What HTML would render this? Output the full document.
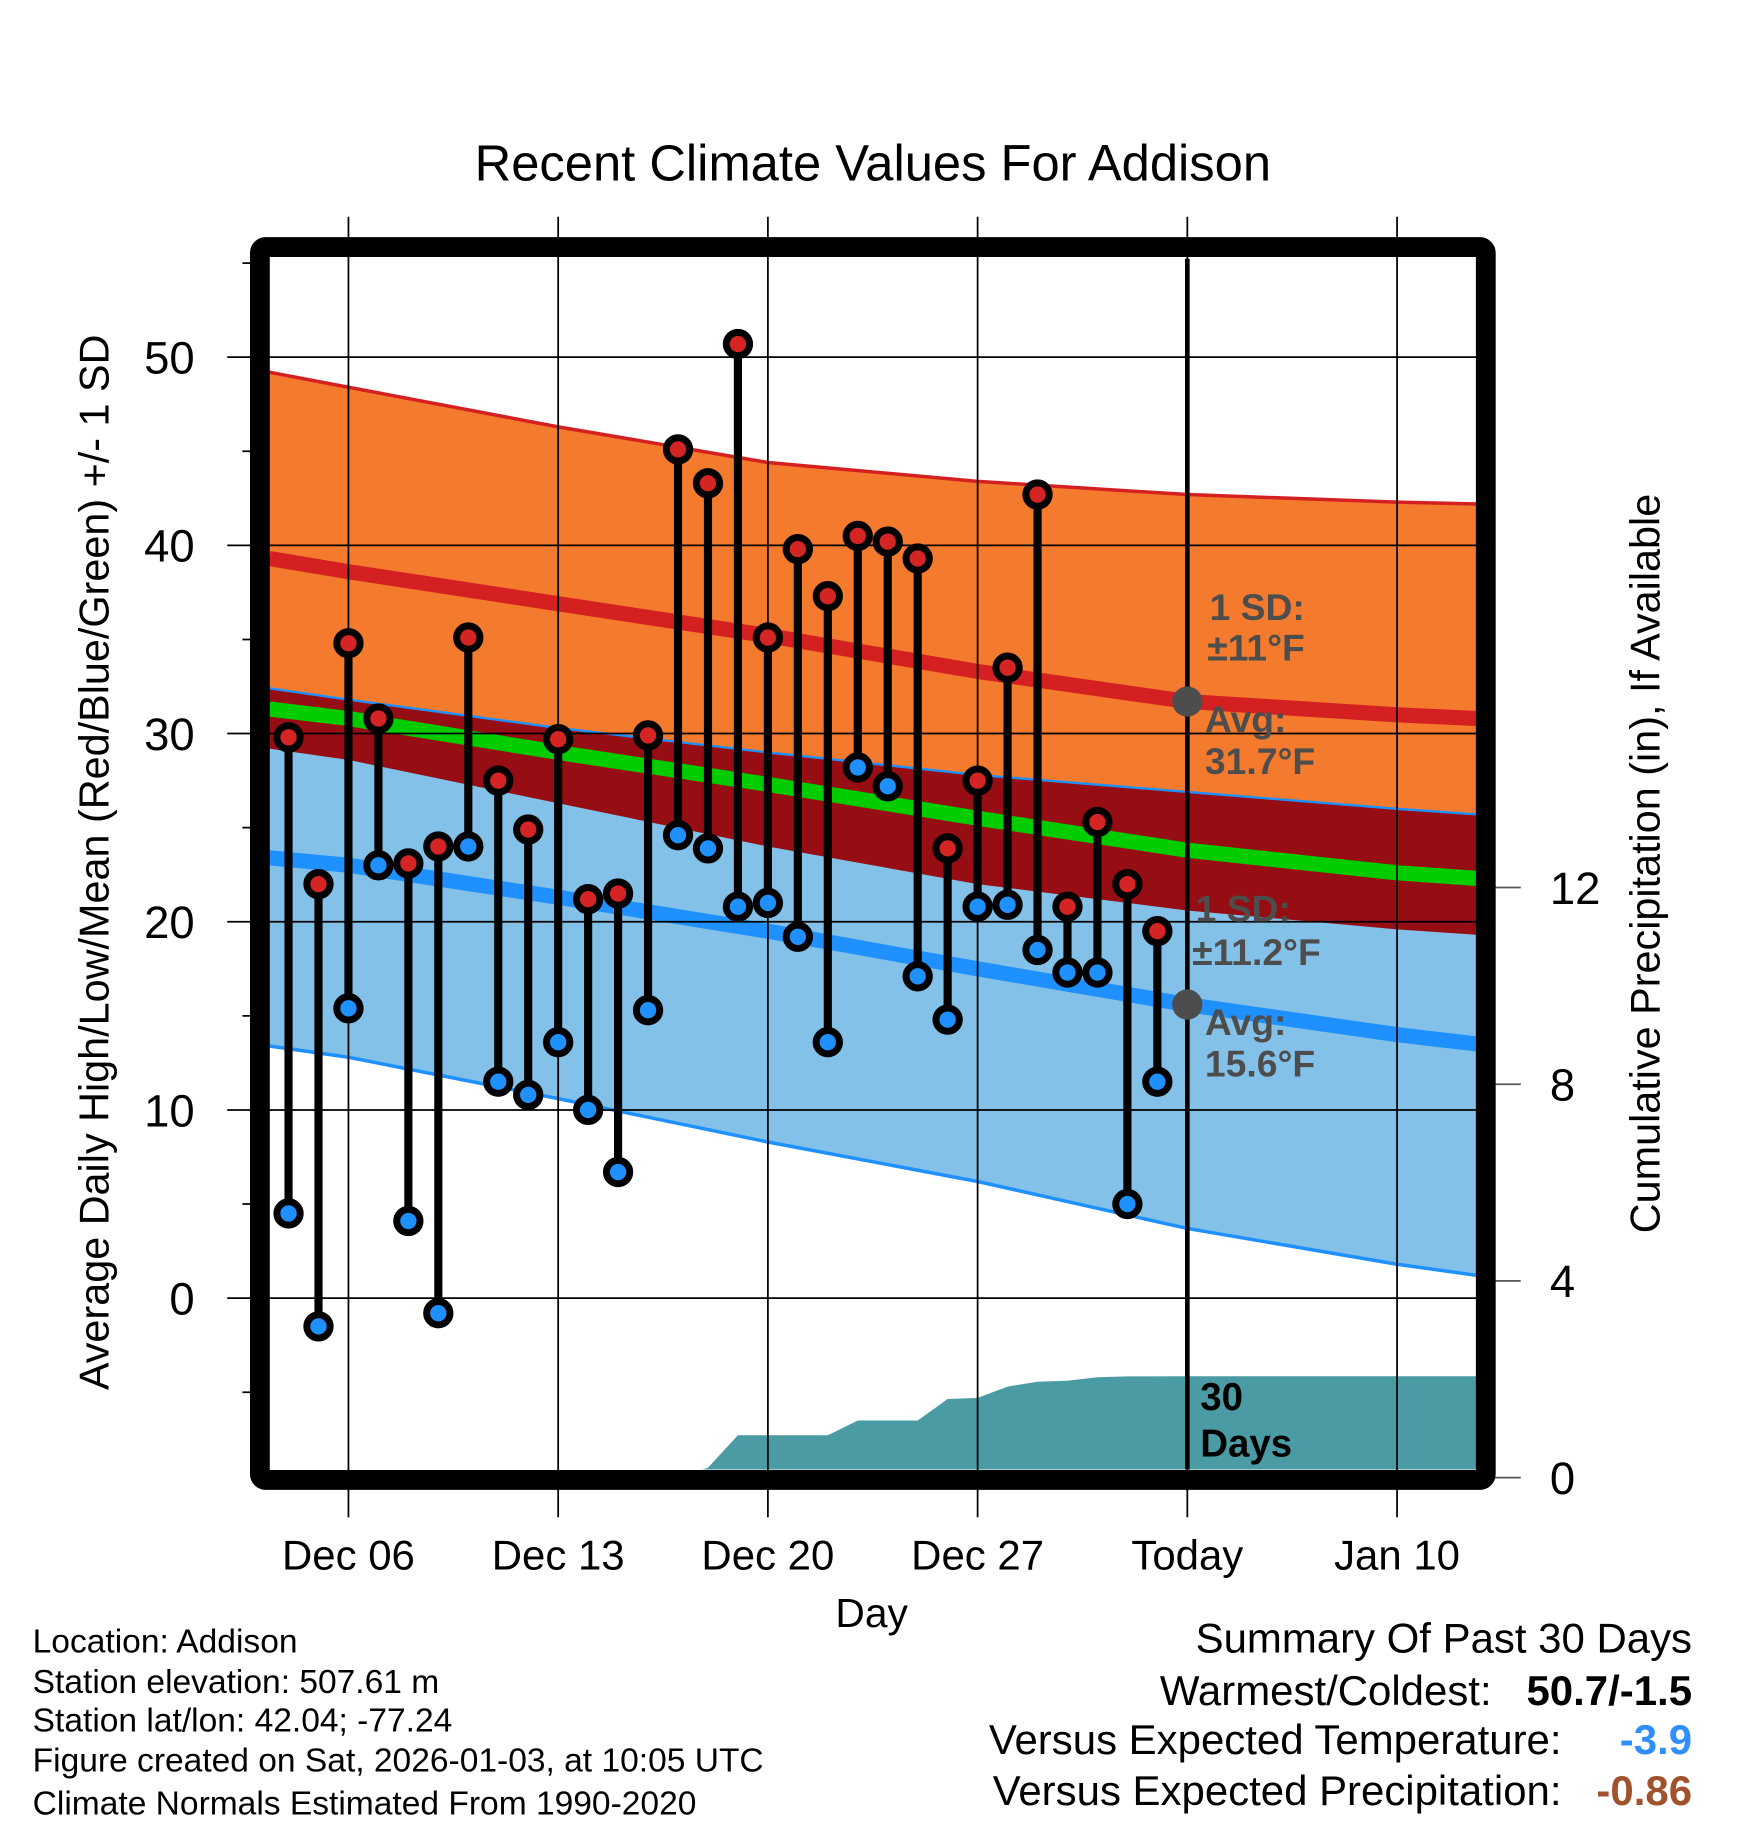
<!DOCTYPE html>
<html><head><meta charset="utf-8"><style>
html,body{margin:0;padding:0;background:#fff}
svg{display:block;font-family:"Liberation Sans",Arial,sans-serif}
</style></head><body>
<svg id="chart" width="1748" height="1828" viewBox="0 0 1500 1568.7" xmlns="http://www.w3.org/2000/svg">
<text x="749" y="155" font-size="43.5" text-anchor="middle">Recent Climate Values For Addison</text>
<g id="plot"></g>
<text transform="translate(93,740) rotate(-90)" font-size="35.5" text-anchor="middle">Average Daily High/Low/Mean (Red/Blue/Green) +/- 1 SD</text>
<text transform="translate(1424,741) rotate(-90)" font-size="35.5" text-anchor="middle">Cumulative Precipitation (in), If Available</text>
<text x="748" y="1396" font-size="35" text-anchor="middle">Day</text>
<g font-size="28.8">
<text x="28" y="1418">Location: Addison</text>
<text x="28" y="1453">Station elevation: 507.61 m</text>
<text x="28" y="1486">Station lat/lon: 42.04; -77.24</text>
<text x="28" y="1520">Figure created on Sat, 2026-01-03, at 10:05 UTC</text>
<text x="28" y="1557">Climate Normals Estimated From 1990-2020</text>
</g>
<g font-size="36">
<text x="1452" y="1418" text-anchor="end">Summary Of Past 30 Days</text>
<text x="1280" y="1463" text-anchor="end">Warmest/Coldest:</text>
<text x="1452" y="1463" text-anchor="end" font-weight="bold">50.7/-1.5</text>
<text x="1340" y="1505" text-anchor="end">Versus Expected Temperature:</text>
<text x="1452" y="1505" text-anchor="end" font-weight="bold" fill="#2f8fff">-3.9</text>
<text x="1340" y="1549" text-anchor="end">Versus Expected Precipitation:</text>
<text x="1452" y="1549" text-anchor="end" font-weight="bold" fill="#a0522d">-0.86</text>
</g>
</svg>
<script>
// ---- data ----
const normDays = [-2.64, 0, 7, 14, 21, 28, 35, 37.7];
const hiUpper = [49.2, 48.4, 46.3, 44.4, 43.4, 42.7, 42.3, 42.2];
const hiMean  = [39.3, 38.6, 36.9, 35.2, 33.3, 31.7, 31.0, 30.8];
const hiLower = [29.2, 28.6, 26.3, 24.0, 22.0, 20.6, 19.6, 19.3];
const avgMean = [31.3, 30.8, 29.0, 27.3, 25.5, 23.8, 22.6, 22.3];
const loUpper = [32.4, 31.8, 30.3, 29.0, 27.8, 26.9, 26.0, 25.7];
const loMean  = [23.4, 23.0, 21.3, 19.5, 17.5, 15.6, 14.0, 13.5];
const loLower = [13.4, 12.8, 10.6, 8.3, 6.2, 3.7, 1.8, 1.2];
const obsDays = [-2,-1,0,1,2,3,4,5,6,7,8,9,10,11,12,13,14,15,16,17,18,19,20,21,22,23,24,25,26,27];
const highs = [29.8,22.0,34.8,30.8,23.1,24.0,35.1,27.5,24.9,29.7,21.2,21.5,29.9,45.1,43.3,50.7,35.1,39.8,37.3,40.5,40.2,39.3,23.9,27.5,33.5,42.7,20.8,25.3,22.0,19.5];
const lows  = [4.5,-1.5,15.4,23.0,4.1,-0.8,24.0,11.5,10.8,13.6,10.0,6.7,15.3,24.6,23.9,20.8,21.0,19.2,13.6,28.2,27.2,17.1,14.8,20.8,20.9,18.5,17.3,17.3,5.0,11.5];
const precip = [0,0,0,0,0,0,0,0,0,0.02,0.02,0.02,0.02,0.02,0.2,0.86,0.86,0.86,0.86,1.16,1.16,1.16,1.6,1.62,1.85,1.95,1.97,2.04,2.06,2.06];
const xTickDays = [0,7,14,21,28,35];
const xTickLabels = ["Dec 06","Dec 13","Dec 20","Dec 27","Today","Jan 10"];
const yTicks = [0,10,20,30,40,50];
const y2Ticks = [0,4,8,12];

// ---- scales ----
const L=231, R=1268, T=222, B=1261;
const X = d => 299 + 25.71*d;
const Y = v => 1114 - 16.15*v;
const Y2 = p => 1268 - 42.2*p;
const NS="http://www.w3.org/2000/svg";
const g=document.getElementById('plot');
function mk(tag, attrs, parent){const e=document.createElementNS(NS,tag);for(const k in attrs)e.setAttribute(k,attrs[k]);(parent||g).appendChild(e);return e;}
const pts = arr => arr.map((v,i)=>X(normDays[i]).toFixed(1)+','+Y(v).toFixed(1));
const cp=mk('clipPath',{id:'clip'});mk('rect',{x:L,y:T,width:R-L,height:B-T},cp);
const pg=mk('g',{'clip-path':'url(#clip)'});
(function(){
 const add=(tag,a,name)=>{const e=mk(tag,a,pg);return e;};
 const poly=(up,lo)=>pts(up).concat(pts(lo).reverse()).join(' ');
 add('polygon',{points:poly(hiUpper,hiLower),fill:'#f47a2d'},'high-sd-band');
 add('polygon',{points:poly(loUpper,loLower),fill:'#84c1e8'},'low-sd-band');
 add('polygon',{points:poly(loUpper,hiLower),fill:'#960d14'},'overlap-band');
 add('polyline',{points:pts(hiUpper).join(' '),fill:'none',stroke:'#d42020','stroke-width':3},'high-upper-line');
 add('polyline',{points:pts(loUpper).join(' '),fill:'none',stroke:'#1e90ff','stroke-width':2},'low-upper-line');
 add('polyline',{points:pts(loLower).join(' '),fill:'none',stroke:'#1e90ff','stroke-width':3},'low-lower-line');
 add('polyline',{points:pts(hiMean).join(' '),fill:'none',stroke:'#d42020','stroke-width':13},'high-mean-line');
 add('polyline',{points:pts(avgMean).join(' '),fill:'none',stroke:'#00cc00','stroke-width':13},'avg-mean-line');
 add('polyline',{points:pts(loMean).join(' '),fill:'none',stroke:'#1e90ff','stroke-width':13},'low-mean-line');
 let pp=[X(obsDays[0])+','+Y2(0)];
 precip.forEach((p,i)=>pp.push(X(obsDays[i]).toFixed(1)+','+Y2(p).toFixed(1)));
 const last=precip[precip.length-1];
 pp.push(X(28)+','+Y2(last)); pp.push(R+','+Y2(last)); pp.push(R+','+Y2(0));
 add('polygon',{points:pp.join(' '),fill:'#4a9ba3'},'precip-area');
})();
yTicks.forEach(v=>{const e=mk('line',{x1:195,x2:R,y1:Y(v),y2:Y(v),stroke:'#000','stroke-width':1.5});
 
 const t=mk('text',{x:167,y:Y(v)+14,'font-size':39,'text-anchor':'end'});t.textContent=v;
 });
for(let v=-5;v<=55;v+=10){const e=mk('line',{x1:208,x2:231,y1:Y(v),y2:Y(v),stroke:'#000','stroke-width':1.5});
 }
y2Ticks.forEach(p=>{const e=mk('line',{x1:1283,x2:1305,y1:Y2(p),y2:Y2(p),stroke:'#555','stroke-width':1.5});
 
 const t=mk('text',{x:1330,y:Y2(p)+14,'font-size':39});t.textContent=p;
 });
xTickDays.forEach((d,i)=>{const today=xTickLabels[i]==='Today';
 const e=mk('line',{x1:X(d),x2:X(d),y1:186,y2:1302,stroke:'#000','stroke-width':1.5});
 
 if(today){const tl=mk('line',{x1:X(d),x2:X(d),y1:T,y2:B,stroke:'#000','stroke-width':4});
  }
 const t=mk('text',{x:X(d),y:1347,'font-size':36,'text-anchor':'middle'});t.textContent=xTickLabels[i];
 });
obsDays.forEach((d,i)=>{
 const s=mk('line',{x1:X(d),x2:X(d),y1:Y(highs[i]),y2:Y(lows[i]),stroke:'#000','stroke-width':7});
 
});
obsDays.forEach((d,i)=>{
 const h=mk('circle',{cx:X(d),cy:Y(highs[i]),r:10,fill:'#d42424',stroke:'#000','stroke-width':6});
 
 const l=mk('circle',{cx:X(d),cy:Y(lows[i]),r:10,fill:'#1e90ff',stroke:'#000','stroke-width':6});
 
});
const ann=[[1038,532,'1 SD:'],[1036,567,'±11°F'],[1034,628,'Avg:'],[1034,664,'31.7°F'],[1026,791,'1 SD:'],[1023,828,'±11.2°F'],[1034,888,'Avg:'],[1034,924,'15.6°F']];
ann.forEach(a=>{const t=mk('text',{x:a[0],y:a[1],'font-size':32,'font-weight':'bold',fill:'#4d4d4d'});t.textContent=a[2];
 });
[hiMean,loMean].forEach(a=>{const c=mk('circle',{cx:X(28),cy:Y(a[5]),r:13,fill:'#4d4d4d'});
 });
[['30',1210],['Days',1250]].forEach(a=>{const t=mk('text',{x:1030,y:a[1],'font-size':33,'font-weight':'bold'});t.textContent=a[0];
 });
const fr=mk('rect',{x:223,y:212,width:1052,height:1058,fill:'none',stroke:'#000','stroke-width':17,rx:5});

</script>
</body></html>
